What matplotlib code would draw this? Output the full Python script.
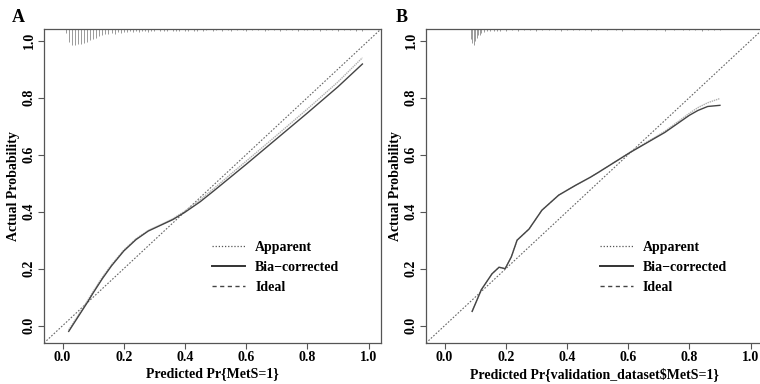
import matplotlib
matplotlib.use("Agg")
import matplotlib.pyplot as plt
from matplotlib.lines import Line2D

plt.rcParams["font.family"] = ["Liberation Serif", "DejaVu Serif"]
plt.rcParams["font.weight"] = "bold"

# Panel A: training data calibration curve
a_x = [0.02, 0.05, 0.08, 0.10, 0.13, 0.16, 0.20, 0.24, 0.28, 0.32, 0.36, 0.40,
       0.45, 0.50, 0.55, 0.60, 0.70, 0.80, 0.90, 0.98]
a_bias = [-0.02, 0.03, 0.08, 0.115, 0.165, 0.21, 0.262, 0.302, 0.332, 0.352, 0.372, 0.398,
          0.435, 0.478, 0.522, 0.566, 0.656, 0.746, 0.838, 0.918]
a_appar = [-0.015, 0.035, 0.085, 0.12, 0.17, 0.214, 0.265, 0.305, 0.334, 0.354, 0.375, 0.402,
           0.442, 0.486, 0.532, 0.577, 0.668, 0.760, 0.855, 0.940]

# Panel B: validation data calibration curve
b_x = [0.09, 0.12, 0.155, 0.178, 0.198, 0.218, 0.237, 0.276, 0.318, 0.373, 0.429, 0.477,
       0.503, 0.607, 0.72, 0.80, 0.828, 0.86, 0.90]
b_bias = [0.05, 0.126, 0.182, 0.205, 0.200, 0.241, 0.30, 0.339, 0.405, 0.458, 0.493, 0.521,
          0.538, 0.608, 0.678, 0.738, 0.755, 0.769, 0.773]
b_appar = [0.05, 0.126, 0.182, 0.205, 0.200, 0.241, 0.30, 0.339, 0.405, 0.458, 0.493, 0.521,
           0.538, 0.609, 0.682, 0.745, 0.765, 0.782, 0.797]

# rug of predicted probabilities (relative spike heights)
rug_a_x = [0.01, 0.02, 0.03, 0.04, 0.05, 0.06, 0.07, 0.08, 0.09, 0.10, 0.11, 0.12, 0.13,
           0.14, 0.15, 0.16, 0.17, 0.18, 0.19, 0.20, 0.21, 0.22, 0.23, 0.24, 0.25, 0.26,
           0.27, 0.28, 0.29, 0.30, 0.32, 0.33, 0.34, 0.36, 0.37, 0.38, 0.40, 0.41, 0.43,
           0.44, 0.46, 0.47, 0.49, 0.50, 0.52, 0.54, 0.55, 0.57, 0.59, 0.60, 0.62, 0.64,
           0.66, 0.67, 0.69, 0.71, 0.73, 0.75, 0.77, 0.79, 0.80, 0.82, 0.84, 0.86, 0.88,
           0.90, 0.92, 0.94, 0.96, 0.98]
rug_a_h = [0.25, 0.8, 1.0, 1.0, 0.95, 0.95, 0.85, 0.8, 0.7, 0.6, 0.55, 0.45, 0.35,
           0.3, 0.3, 0.25, 0.3, 0.2, 0.25, 0.2, 0.2, 0.15, 0.2, 0.15, 0.2, 0.15,
           0.15, 0.2, 0.12, 0.15, 0.12, 0.15, 0.1, 0.12, 0.1, 0.15, 0.1, 0.12, 0.1,
           0.1, 0.12, 0.08, 0.1, 0.08, 0.12, 0.08, 0.1, 0.08, 0.08, 0.1, 0.08, 0.08,
           0.1, 0.08, 0.08, 0.12, 0.08, 0.08, 0.1, 0.08, 0.08, 0.08, 0.1, 0.08, 0.08,
           0.1, 0.08, 0.08, 0.1, 0.12]
rug_b_x = [0.085, 0.09, 0.095, 0.10, 0.105, 0.11, 0.115, 0.12, 0.13, 0.14, 0.15, 0.16,
           0.17, 0.18, 0.20, 0.22, 0.24, 0.26, 0.28, 0.30, 0.32, 0.34, 0.36, 0.38, 0.40,
           0.42, 0.44, 0.46, 0.48, 0.50, 0.53, 0.56, 0.58, 0.62, 0.66, 0.69, 0.72, 0.75,
           0.78, 0.80, 0.82, 0.84, 0.86, 0.88, 0.90]
rug_b_h = [0.6, 0.9, 1.0, 0.75, 0.55, 0.4, 0.35, 0.25, 0.2, 0.15, 0.15, 0.12,
           0.12, 0.1, 0.1, 0.08, 0.1, 0.08, 0.08, 0.1, 0.08, 0.08, 0.08, 0.1, 0.08,
           0.08, 0.08, 0.08, 0.1, 0.08, 0.08, 0.08, 0.1, 0.08, 0.08, 0.08, 0.1, 0.08,
           0.08, 0.08, 0.08, 0.1, 0.08, 0.08, 0.08]

ticks = [0.0, 0.2, 0.4, 0.6, 0.8, 1.0]
lims = (-0.0608, 1.0408)

fig = plt.figure(figsize=(7.6, 3.84), dpi=100)
ax_a = fig.add_axes([44 / 760, 41 / 384, 337 / 760, 314 / 384])
ax_b = fig.add_axes([426 / 760, 41 / 384, 337 / 760, 314 / 384])

panels = [
    (ax_a, "A", a_x, a_bias, a_appar, rug_a_x, rug_a_h, "Predicted Pr{MetS=1}", 0.499),
    (ax_b, "B", b_x, b_bias, b_appar, rug_b_x, rug_b_h,
     "Predicted Pr{validation_dataset\\$MetS=1}", 0.516),
]

for ax, letter, x, yb, ya, rx, rh, xlab, leg_x in panels:
    ax.set_xlim(lims)
    ax.set_ylim(lims)
    # ideal line
    ax.plot(lims, lims, color="#666666", lw=0.8, linestyle=(0, (1.5, 1.5)))
    ax.plot(x, ya, color="#b0b0b0", lw=1.0, linestyle=(0, (1, 0.6)))
    ax.plot(x, yb, color="#444444", lw=1.0)
    top = lims[1]
    ax.vlines(rx, [top - h * 0.056 for h in rh], top, color="#8a8a8a", lw=0.6)

    ax.set_xticks(ticks)
    ax.set_yticks(ticks)
    ax.set_xticklabels([f"{t:.1f}" for t in ticks], fontsize=10, fontweight="bold")
    ax.set_yticklabels([f"{t:.1f}" for t in ticks], fontsize=10, fontweight="bold",
                       rotation=90, va="center")
    ax.tick_params(direction="out", length=4, width=0.8, color="#555555", pad=2)
    for s in ax.spines.values():
        s.set_color("#555555")
        s.set_linewidth(0.9)
    ax.set_xlabel(xlab, fontsize=10, fontweight="bold", labelpad=2)
    ax.set_ylabel("Actual Probability", fontsize=10, fontweight="bold", labelpad=2)

    handles = [
        Line2D([], [], color="#555555", lw=0.9, linestyle=(0, (1, 1.5))),
        Line2D([], [], color="#333333", lw=1.4),
        Line2D([], [], color="#444444", lw=1.0, linestyle=(0, (3, 2.5))),
    ]
    ax.legend(handles, ["Apparent", "Bia\u2212corrected", "Ideal"], loc="upper left",
              bbox_to_anchor=(leg_x, 0.325), frameon=False, borderpad=0,
              borderaxespad=0, handlelength=2.4, handletextpad=0.7,
              labelspacing=0.5, prop={"size": 10, "weight": "bold"})

fig.text(12 / 760, 1 - 18 / 384, "A", fontsize=13, fontweight="bold", va="center")
fig.text(396 / 760, 1 - 18 / 384, "B", fontsize=13, fontweight="bold", va="center")

fig.savefig("out.png", dpi=100)
